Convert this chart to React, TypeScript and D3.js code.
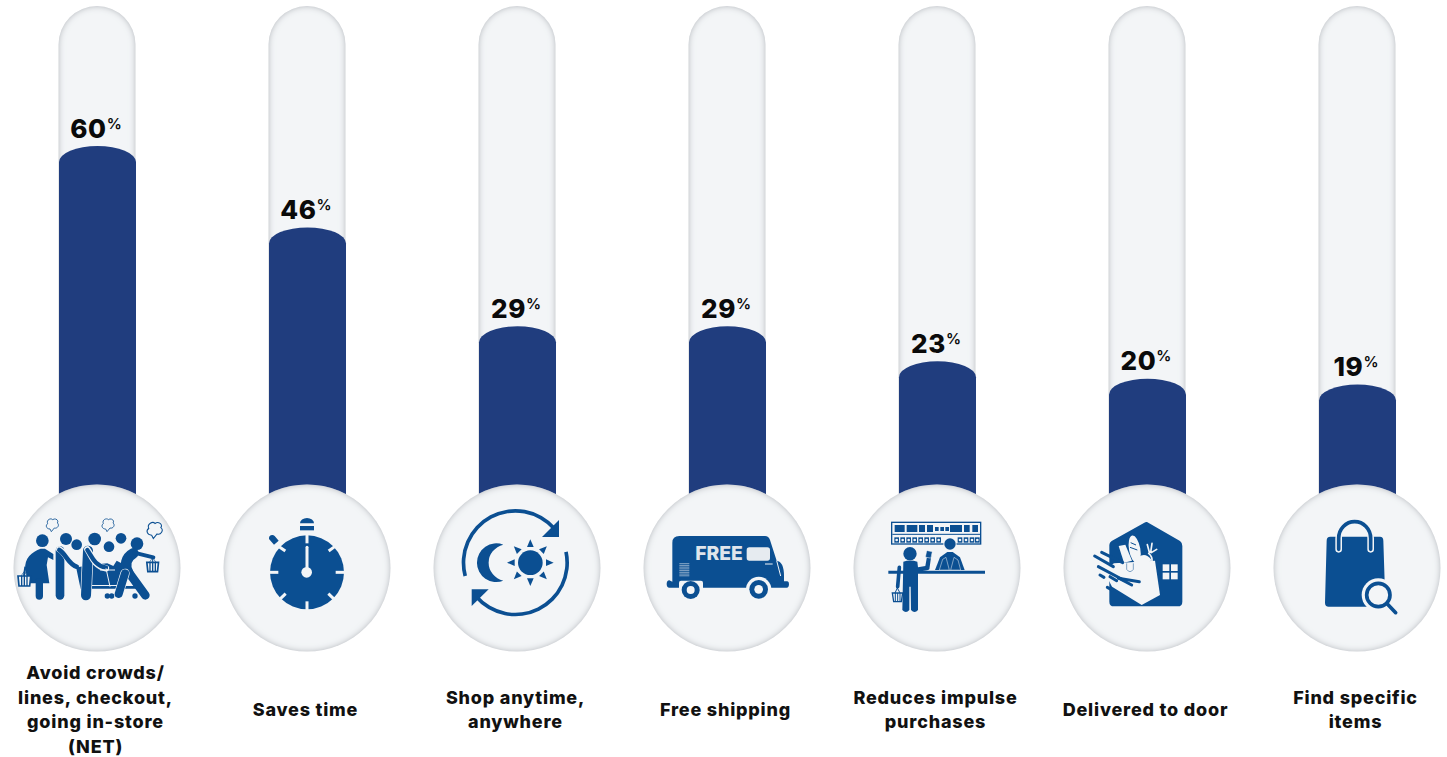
import React from "react";
import * as d3 from "d3";

const categories = [
  "Avoid crowds/ lines, checkout, going in-store (NET)",
  "Saves time",
  "Shop anytime, anywhere",
  "Free shipping",
  "Reduces impulse purchases",
  "Delivered to door",
  "Find specific items",
];
const values = [60, 46, 29, 29, 23, 20, 19];
const labelLines = [
  ["Avoid crowds/", "lines, checkout,", "going in-store", "(NET)"],
  ["Saves time"],
  ["Shop anytime,", "anywhere"],
  ["Free shipping"],
  ["Reduces impulse", "purchases"],
  ["Delivered to door"],
  ["Find specific", "items"],
];

const W = 1447;
const H = 757;
const NAVY = "#203d7e";
const ICON = "#0b4f92";
const PALE = "#f3f5f7";
const FONT = "Inter, 'Open Sans', sans-serif";

const x = d3.scalePoint<string>().domain(categories).range([97, 1357]);
const y = d3.scaleLinear().domain([0, 60]).range([495, 146]);

// Filled bar: flat bottom hidden behind the badge, elliptical dome on top.
function barPath(cx: number, top: number) {
  const hw = 38.5;
  const ry = 16;
  const c = cx + 0.5;
  return `M${c - hw},530 V${top + ry} A${hw},${ry} 0 0 1 ${c + hw},${top + ry} V530 Z`;
}

function tubePath(cx: number) {
  const p = d3.path();
  const hw = 38.5;
  const c = cx;
  p.moveTo(c - hw, 530);
  p.lineTo(c - hw, 6 + hw);
  p.arc(c, 6 + hw, hw, Math.PI, 0);
  p.lineTo(c + hw, 530);
  p.closePath();
  return p.toString();
}

const Crowd = () => (
  <g>
    {[[127, 212, 19], [198, 207, 18], [230, 224, 16], [284, 207, 19], [327, 230, 16], [363, 205, 16], [411, 221, 19]].map(
      ([a, b, r], i) => <circle key={i} cx={a} cy={b} r={r} fill={ICON} />
    )}
    {[[158, 163, 1], [325, 163, 1], [465, 178, 1.25]].map(([a, b, s], i) => (
      <g key={i} transform={`translate(${a},${b}) scale(${s})`} fill={PALE} stroke={ICON} strokeWidth={2.5}>
        <path d="M-8,14 C-20,14 -22,2 -15,-2 C-20,-14 -5,-20 0,-14 C8,-20 20,-12 14,-4 C22,2 14,14 5,11 L-4,22 Z" />
      </g>
    ))}
    {/* woman with basket */}
    <path d="M122,236 C96,245 72,265 76,298 L84,340 L148,340 L140,285 L144,262 L160,270 L160,252 L135,236 Z" fill={ICON} />
    <line x1={118} y1={335} x2={118} y2={378} stroke={ICON} strokeWidth={22} strokeLinecap="round" />
    <line x1={76} y1={290} x2={72} y2={318} stroke={ICON} strokeWidth={6} />
    {/* second shopper */}
    <path d="M180,242 L180,376" stroke={ICON} strokeWidth={26} strokeLinecap="round" />
    <path d="M178,238 C200,250 205,285 232,292" stroke={PALE} strokeWidth={19} fill="none" strokeLinecap="round" />
    <path d="M178,240 C198,252 205,282 230,290" stroke={ICON} strokeWidth={14} fill="none" strokeLinecap="round" />
    {/* cart */}
    <path d="M272,285 L322,280 L340,288 L350,272 L385,290 L395,300 L372,345 L245,345 L232,292 Z" fill={ICON} />
    <path d="M232,290 L245,352 L415,352" stroke={ICON} strokeWidth={8} fill="none" />
    {[[258, 378], [322, 378], [335, 378], [405, 378]].map(([a, b], i) => <circle key={i} cx={a} cy={b} r={8} fill={ICON} />)}
    {/* third shopper */}
    <path d="M264,242 L258,376" stroke={PALE} strokeWidth={34} strokeLinecap="round" />
    <path d="M264,242 L258,376" stroke={ICON} strokeWidth={30} strokeLinecap="round" />
    <path d="M262,238 C275,255 280,288 318,295" stroke={PALE} strokeWidth={19} fill="none" strokeLinecap="round" />
    <path d="M262,240 C275,257 282,286 318,293" stroke={ICON} strokeWidth={13} fill="none" strokeLinecap="round" />
    <path d="M300,300 L345,300 M318,295 L330,350" stroke={PALE} strokeWidth={3} />
    {/* fourth shopper */}
    <path d="M400,250 C378,262 372,285 385,310" stroke={ICON} strokeWidth={32} fill="none" strokeLinecap="round" />
    <path d="M385,305 L436,376" stroke={ICON} strokeWidth={26} strokeLinecap="round" />
    <path d="M375,310 L356,372" stroke={PALE} strokeWidth={28} strokeLinecap="round" />
    <path d="M375,310 L356,372" stroke={ICON} strokeWidth={24} strokeLinecap="round" />
    <path d="M402,248 L460,262" stroke={ICON} strokeWidth={12} strokeLinecap="round" />
    <line x1={458} y1={262} x2={458} y2={280} stroke={ICON} strokeWidth={3} />
    {/* baskets */}
    {[[73, 333, 38, 15], [458, 291, 35, 14]].map(([a, b, w, h], i) => (
      <g key={i} transform={`translate(${a},${b})`}>
        <path d={`M${-w / 2},${-h} H${w / 2} L${w / 2 - 3},${h} H${-w / 2 + 3} Z`} fill={PALE} stroke={ICON} strokeWidth={5} />
        {[-8, 0, 8].map((d) => <line key={d} x1={d} x2={d} y1={-h} y2={h} stroke={ICON} strokeWidth={4} />)}
        <path d={`M${-10},${-h} L0,${-h - 14} L10,${-h}`} fill="none" stroke={ICON} strokeWidth={2} />
      </g>
    ))}
  </g>
);

const Stopwatch = () => (
  <g>
    <circle cx={291} cy={307} r={111} fill={ICON} />
    {[[291, 192, 291, 220], [291, 394, 291, 422], [176, 307, 205, 307], [377, 307, 406, 307], [203, 227, 226, 243], [375, 229, 356, 243], [227, 371, 209, 388], [355, 371, 373, 388]].map(
      ([a, b, c, d], i) => <line key={i} x1={a} y1={b} x2={c} y2={d} stroke={PALE} strokeWidth={9} />
    )}
    <line x1={291} y1={232} x2={291} y2={300} stroke={PALE} strokeWidth={9} strokeLinecap="round" />
    <circle cx={290} cy={307} r={16} fill={PALE} />
    <path d="M270,160 A21,16 0 0 1 312,160 Z" fill={ICON} />
    <rect x={270} y={168} width={42} height={13} fill={ICON} />
    <path d="M177,207 A10,10 0 0 1 194,198 L206,212 L192,224 Z" fill={ICON} />
  </g>
);

const DayNight = () => {
  const arc = d3.arc();
  const ring = (a: number, b: number) =>
    arc({ innerRadius: 150, outerRadius: 161, startAngle: a, endAngle: b }) as string;
  return (
    <g>
      <g transform="translate(916,278)">
        <path d={ring(-1.83, 0.85)} fill={ICON} />
        <path d={ring(1.36, 4.0)} fill={ICON} />
      </g>
      <path d="M1047,150 L1047,201 L996,201 Z" fill={ICON} />
      <path d="M785,408 L785,358 L836,358 Z" fill={ICON} />
      <path d="M880,224 A58,58 0 1 0 880,332 A60,56 0 0 1 880,224 Z" fill={ICON} />
      <circle cx={961} cy={278} r={37} fill={ICON} />
      {d3.range(8).map((i) => (
        <path key={i} transform={`translate(961,278) rotate(${i * 45})`} d="M0,-70 L10,-47 L-10,-47 Z" fill={ICON} />
      ))}
    </g>
  );
};

const Van = () => (
  <g>
    <path d="M127,335 L127,218 Q127,198 148,198 L405,198 Q416,198 420,210 L440,272 Q462,275 462,318 L462,334 L472,334 Q477,334 477,342 Q477,353 470,353 L118,353 Q110,353 110,342 Q110,332 118,331 Z" fill={ICON} />
    <rect x={350} y={232} width={70} height={40} rx={8} fill="#e6ebf0" />
    <text x={267} y={271} textAnchor="middle" fontFamily={FONT} fontWeight={800} fontSize={58} fill="#dfe5ec">FREE</text>
    {d3.range(8).map((i) => <line key={i} x1={148} x2={178} y1={281 + i * 5.2} y2={281 + i * 5.2} stroke="#c6d3e2" strokeWidth={2} />)}
    <line x1={405} x2={428} y1={282} y2={282} stroke={PALE} strokeWidth={3} />
    <line x1={440} x2={452} y1={272} y2={318} stroke={PALE} strokeWidth={3} />
    <rect x={147} y={332} width={72} height={26} rx={6} fill={PALE} />
    <circle cx={386} cy={358} r={38} fill={PALE} />
    <circle cx={182} cy={360} r={27} fill={ICON} />
    <circle cx={182} cy={360} r={12} fill={PALE} />
    <circle cx={386} cy={358} r={28} fill={ICON} />
    <circle cx={386} cy={358} r={13} fill={PALE} />
  </g>
);

const Checkout = () => (
  <g>
    <rect x={785} y={157} width={267} height={65} fill="none" stroke={ICON} strokeWidth={4} />
    {[[794, 30], [830, 32], [867, 18], [891, 18], [915, 11], [931, 11], [946, 11], [960, 36], [1002, 17], [1027, 17]].map(([a, w], i) => (
      <rect key={i} x={a} y={i > 3 && i < 7 ? 171 : 165} width={w} height={i > 3 && i < 7 ? 12 : 21} fill={ICON} />
    ))}
    <line x1={787} x2={1050} y1={193} y2={193} stroke={ICON} strokeWidth={3} />
    {[800, 818, 836, 854, 872, 890, 908, 926, 990, 1008, 1026, 1042].map((a) => (
      <g key={a}>
        <rect x={a - 7} y={202} width={14} height={16} fill={ICON} />
        <circle cx={a} cy={210} r={4} fill={PALE} />
      </g>
    ))}
    <circle cx={960} cy={222} r={20} fill={PALE} />
    <circle cx={960} cy={222} r={17} fill={ICON} />
    <path d="M915,300 L930,262 L952,246 L968,246 L990,262 L1004,300 Z" fill={ICON} />
    <path d="M928,300 L938,268 L948,262 L958,300 Z M962,300 L972,262 L984,270 L992,300 Z" fill={ICON} stroke={PALE} strokeWidth={1.5} />
    <line x1={775} x2={1065} y1={307} y2={307} stroke={ICON} strokeWidth={9} />
    <circle cx={840} cy={251} r={20} fill={ICON} />
    <path d="M820,275 Q840,268 862,275 L864,292 L886,288 L892,254 L904,256 L898,298 Q894,302 864,305 L864,420 Q854,432 843,420 L842,350 L838,350 L838,420 Q828,432 817,420 Z" fill={ICON} />
    <rect x={888} y={243} width={17} height={20} rx={2} transform="rotate(12 896 253)" fill={ICON} stroke={PALE} strokeWidth={1.5} />
    <path d="M808,292 L803,350" stroke={ICON} strokeWidth={11} strokeLinecap="round" />
    <path d="M787,369 H818 L814,395 H791 Z" fill={PALE} stroke={ICON} strokeWidth={4} />
    {[796, 803, 810].map((a) => <line key={a} x1={a} x2={a} y1={369} y2={395} stroke={ICON} strokeWidth={3} />)}
    <path d="M795,369 L802,354 L810,369" fill="none" stroke={ICON} strokeWidth={3} />
  </g>
);

const Delivery = () => (
  <g>
    <path d="M291,156 L390,213 Q397,218 397,228 L397,395 Q397,409 383,409 L192,409 Q178,409 178,395 L178,225 Q178,217 185,213 L283,158 Q287,155 291,156 Z" fill={ICON} />
    <path d="M192,280 L315,272 L330,375 L275,405 L186,350 L160,300 Z" fill={PALE} />
    <ellipse cx={254} cy={238} rx={17} ry={42} transform="rotate(-10 254 238)" fill={PALE} />
    <path d="M242,218 L258,225 M240,232 L262,240" stroke={ICON} strokeWidth={3} />
    <path d="M206,228 L226,224 L246,272 L222,278 Z" fill={PALE} />
    <path d="M266,262 Q285,245 305,270 L298,276 L262,276 Z" fill={PALE} />
    <path d="M298,247 L292,224 M302,247 L306,220 M304,248 L320,238 M296,250 Q308,260 306,275" stroke={PALE} strokeWidth={5} fill="none" strokeLinecap="round" />
    <path d="M230,280 V298 Q240,312 250,298 V280" fill="none" stroke={ICON} strokeWidth={3} opacity={0.5} />
    {[[155, 247, 218, 278], [134, 258, 190, 290], [145, 290, 220, 330], [205, 325, 268, 335], [150, 315, 162, 322], [180, 320, 200, 332], [208, 325, 245, 345], [172, 352, 186, 360]].map(
      ([a, b, c, d], i) => <line key={i} x1={a} y1={b} x2={c} y2={d} stroke={ICON} strokeWidth={9} strokeLinecap="round" />
    )}
    {[[338, 283], [363, 283], [338, 308], [363, 308]].map(([a, b], i) => <rect key={i} x={a} y={b} width={20} height={20} fill={PALE} />)}
  </g>
);

const BagSearch = () => (
  <g>
    <path d="M841,200 L990,200 Q1000,200 1000,212 L1006,398 Q1006,410 994,410 L836,410 Q825,410 825,398 L830,212 Q830,200 841,200 Z" fill={ICON} />
    <path d="M866,238 V205 A48,50 0 0 1 962,205 V238" fill="none" stroke={PALE} strokeWidth={20} strokeLinecap="round" />
    <path d="M866,238 V205 A48,50 0 0 1 962,205 V238" fill="none" stroke={ICON} strokeWidth={11} strokeLinecap="round" />
    <circle cx={985} cy={375} r={50} fill={PALE} />
    <circle cx={985} cy={375} r={35} fill={PALE} stroke={ICON} strokeWidth={11} />
    <line x1={1010} y1={400} x2={1037} y2={428} stroke={ICON} strokeWidth={11} strokeLinecap="round" />
  </g>
);

// Each glyph is authored on a 3x grid, with its own badge centre as origin offset.
const icons = [
  { Glyph: Crowd, ox: 291 },
  { Glyph: Stopwatch, ox: 291 },
  { Glyph: DayNight, ox: 921 },
  { Glyph: Van, ox: 291 },
  { Glyph: Checkout, ox: 921 },
  { Glyph: Delivery, ox: 291 },
  { Glyph: BagSearch, ox: 921 },
];

export default function App() {
  return (
    <svg width={W} height={H} viewBox={`0 0 ${W} ${H}`} style={{ position: "absolute", left: 0, top: 0, background: "#fff" }}>
      <defs>
        <filter id="inset" x="-10%" y="-10%" width="120%" height="120%">
          <feComponentTransfer in="SourceAlpha" result="inv">
            <feFuncA type="table" tableValues="1 0" />
          </feComponentTransfer>
          <feGaussianBlur in="inv" stdDeviation="3" result="blur" />
          <feFlood floodColor="#8a8f98" floodOpacity="0.75" />
          <feComposite in2="blur" operator="in" result="tint" />
          <feComposite in="tint" in2="SourceAlpha" operator="in" result="edge" />
          <feMerge>
            <feMergeNode in="SourceGraphic" />
            <feMergeNode in="edge" />
          </feMerge>
        </filter>
      </defs>

      {categories.map((c) => (
        <path key={c} d={tubePath(x(c)!)} fill={PALE} filter="url(#inset)" />
      ))}

      {categories.map((c, i) => (
        <path key={c} d={barPath(x(c)!, y(values[i]))} fill={NAVY} />
      ))}

      {categories.map((c, i) => (
        <text
          key={c}
          x={x(c)! - 1}
          y={y(values[i]) - 8.5}
          textAnchor="middle"
          fontFamily={FONT}
          fontWeight={800}
          fontSize={26}
          letterSpacing={0.6}
          fill="#0a0a0a"
        >
          {values[i]}
          <tspan fontSize={15} fontWeight={600} dy={-9} letterSpacing={0}>%</tspan>
        </text>
      ))}

      {categories.map((c, i) => {
        const cx = x(c)!;
        const { Glyph, ox } = icons[i];
        return (
          <g key={c}>
            <circle cx={cx} cy={568} r={83.5} fill={PALE} filter="url(#inset)" />
            <g transform={`translate(${cx},568) scale(${1 / 3}) translate(${-ox},-294)`}>
              <Glyph />
            </g>
          </g>
        );
      })}

      {categories.map((c, i) => {
        const lines = labelLines[i];
        const top = 709 - ((lines.length - 1) * 24.5) / 2;
        return (
          <text
            key={c}
            textAnchor="middle"
            fontFamily={FONT}
            fontWeight={800}
            fontSize={18}
            letterSpacing={0.8}
            fill="#111"
          >
            {lines.map((l, j) => (
              <tspan key={j} x={x(c)! - 1.5} y={top + j * 24.5 + 7}>{l}</tspan>
            ))}
          </text>
        );
      })}
    </svg>
  );
}
